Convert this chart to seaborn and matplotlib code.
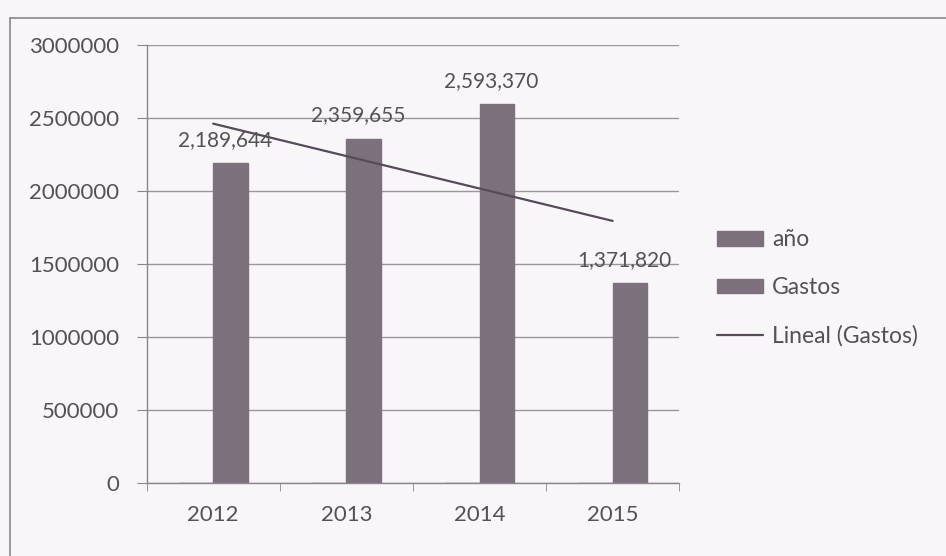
import numpy as np
import pandas as pd
import seaborn as sns
import matplotlib.pyplot as plt
from matplotlib.patches import Rectangle, Patch
from matplotlib.lines import Line2D

# datos del gráfico
years = ['2012', '2013', '2014', '2015']
anio_vals = [2012, 2013, 2014, 2015]
gastos_vals = [2189644, 2359655, 2593370, 1371820]
series = ['año', 'Gastos']

df = pd.DataFrame({
    'year': years * 2,
    'serie': ['año'] * 4 + ['Gastos'] * 4,
    'valor': anio_vals + gastos_vals,
})

sns.set_style('white')
plt.rcParams['font.family'] = ['Lato', 'DejaVu Sans']

bg = '#f9f6fa'
bar_col = '#7b707c'
txt_col = '#555055'
ax_col = '#8a868c'

fig = plt.figure(figsize=(9.46, 5.56), dpi=100)
fig.patch.set_facecolor(bg)
ax = fig.add_axes([0.155, 0.131, 0.563, 0.788])
ax.set_facecolor(bg)

sns.barplot(data=df, x='year', y='valor', hue='serie', hue_order=series,
            palette=[bar_col, bar_col], width=0.52, ax=ax, legend=False,
            saturation=1, edgecolor=bar_col, linewidth=1)

# etiquetas de Gastos
for i, v in enumerate(gastos_vals):
    ax.text(i + 0.09, v + 90000, f'{v:,}', ha='center', va='bottom',
            fontsize=15, color=txt_col)

# linea de tendencia (lineal)
xs = np.arange(len(gastos_vals))
m, b = np.polyfit(xs, gastos_vals, 1)
ax.plot([xs[0], xs[-1]], [m * xs[0] + b, m * xs[-1] + b], color='#564b58', lw=1.6)

ax.set_ylim(0, 3000000)
ax.set_xlim(-0.5, 3.5)
ax.set_yticks(range(0, 3000001, 500000))
ax.set_yticklabels([str(t) for t in range(0, 3000001, 500000)])
ax.yaxis.grid(True, color='#9a969c', lw=1)
ax.set_axisbelow(True)
ax.set_xlabel('')
ax.set_ylabel('')
for s in ['top', 'right']:
    ax.spines[s].set_visible(False)
for s in ['left', 'bottom']:
    ax.spines[s].set_color(ax_col)
    ax.spines[s].set_linewidth(1)
ax.tick_params(axis='y', left=True, length=7, color=ax_col, labelsize=16,
               labelcolor=txt_col, pad=13)
ax.tick_params(axis='x', bottom=False, labelsize=16, labelcolor=txt_col, pad=12)
ax.set_xticks([-0.5, 0.5, 1.5, 2.5, 3.5], minor=True)
ax.tick_params(axis='x', which='minor', bottom=True, length=6, color=ax_col)

handles = [Patch(color=bar_col), Patch(color=bar_col),
           Line2D([0], [0], color='#564b58', lw=1.6)]
fig.legend(handles, ['año', 'Gastos', 'Lineal (Gastos)'], loc='upper left',
           bbox_to_anchor=(0.748, 0.604), frameon=False, fontsize=16.5,
           labelcolor=txt_col, labelspacing=1.17, handlelength=2.0,
           handleheight=0.6, handletextpad=0.4, borderaxespad=0)

# borde del grafico
fig.patches.append(Rectangle((0.011, -0.01), 1.0, 0.978, transform=fig.transFigure,
                             fill=False, edgecolor=ax_col, lw=1.2))

plt.savefig('out.png', dpi=100, facecolor=bg)
